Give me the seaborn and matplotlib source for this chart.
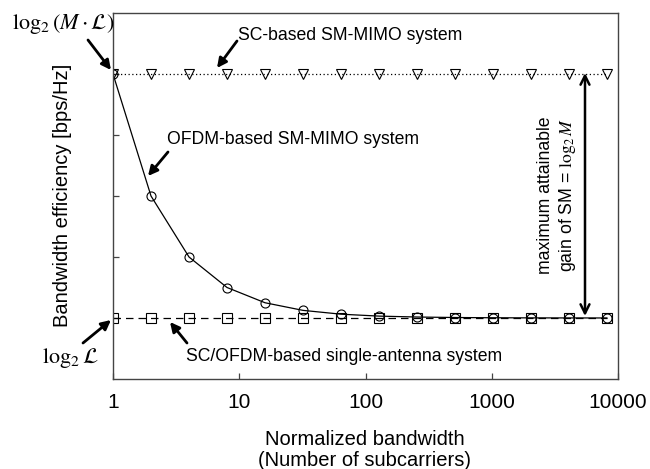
import numpy as np
import pandas as pd
import seaborn as sns
import matplotlib
matplotlib.use("Agg")
import matplotlib.pyplot as plt
from matplotlib.ticker import FixedLocator, FixedFormatter, NullLocator

# ---- data ----
subcarriers = [1, 2, 4, 8, 16, 32, 64, 128, 256, 512, 1024, 2048, 4096, 8192]
sc_sm_mimo = [5, 5, 5, 5, 5, 5, 5, 5, 5, 5, 5, 5, 5, 5]
ofdm_sm_mimo = [5, 3, 2, 1.5, 1.25, 1.125, 1.0625, 1.031, 1.016, 1.008, 1.004, 1.002, 1.001, 1.0005]
single_antenna = [1, 1, 1, 1, 1, 1, 1, 1, 1, 1, 1, 1, 1, 1]
xtick_vals = [1, 10, 100, 1000, 10000]
xtick_labels = ["1", "10", "100", "1000", "10000"]
ytick_vals = [1, 2, 3, 4, 5]

df = pd.DataFrame({"N": subcarriers, "sc": sc_sm_mimo, "ofdm": ofdm_sm_mimo, "single": single_antenna})

sns.set_theme(style="ticks")
plt.rcParams["font.family"] = ["Liberation Sans", "DejaVu Sans"]
plt.rcParams["mathtext.fontset"] = "stix"
plt.rcParams["text.color"] = "black"
plt.rcParams["xtick.labelcolor"] = "black"

W, H = 650, 469
fig = plt.figure(figsize=(6.5, 4.69), dpi=100)
ax = fig.add_axes([113 / W, 1 - 379 / H, (618 - 113) / W, (379 - 13) / H])

common = dict(color="black", linewidth=0.9, markerfacecolor="none",
              markeredgecolor="black", markeredgewidth=0.8, markersize=6.5)
sns.lineplot(data=df, x="N", y="single", ax=ax, marker="s", linestyle=(0, (6, 4)), **common)
sns.lineplot(data=df, x="N", y="sc", ax=ax, marker="v", linestyle=(0, (1, 2)), **common)
sns.lineplot(data=df, x="N", y="ofdm", ax=ax, marker="o", linestyle="-", **common)

ax.set_xscale("log")
ax.set_xlim(1, 10000)
ax.set_ylim(0, 6)
ax.xaxis.set_major_locator(FixedLocator(xtick_vals))
ax.xaxis.set_major_formatter(FixedFormatter(xtick_labels))
ax.xaxis.set_minor_locator(NullLocator())
ax.yaxis.set_major_locator(FixedLocator(ytick_vals))
ax.set_yticklabels([])
ax.tick_params(axis="both", direction="in", length=4, width=0.9, color="#444444")
ax.tick_params(axis="x", labelsize=15, pad=10, labelcolor="black")
for s in ax.spines.values():
    s.set_color("#444444")
    s.set_linewidth(1.0)
    s.set_visible(True)
ax.set_xlabel("")
ax.set_ylabel("")

def fx(px):
    return px / W

def fy(py):
    return 1 - py / H

fig.text(fx(63), fy(195), "Bandwidth efficiency [bps/Hz]", rotation=90,
         ha="center", va="center", fontsize=14.5)
fig.text(fx(365), fy(450), "Normalized bandwidth\n(Number of subcarriers)",
         ha="center", va="center", fontsize=14.5, linespacing=1.1)

fig.text(fx(63), fy(24), r"$\log_2(M\cdot\mathcal{L})$", ha="center", va="center", fontsize=16)
fig.text(fx(70), fy(358), r"$\log_2\mathcal{L}$", ha="center", va="center", fontsize=16)
fig.text(fx(350), fy(35), "SC-based SM-MIMO system", ha="center", va="center", fontsize=12.7)
fig.text(fx(167), fy(140), "OFDM-based SM-MIMO system", ha="left", va="center", fontsize=12.7)
fig.text(fx(186), fy(356), "SC/OFDM-based single-antenna system", ha="left", va="center", fontsize=12.7)
fig.text(fx(557), fy(195), "maximum attainable\ngain of SM = $\\log_2 M$", rotation=90,
         ha="center", va="center", fontsize=12.7, multialignment="center", linespacing=1.2)

def arrow(tail, head):
    ax.annotate("", xy=(head[0], H - head[1]), xycoords="figure pixels",
                xytext=(tail[0], H - tail[1]), textcoords="figure pixels",
                arrowprops=dict(arrowstyle="-|>", color="black", lw=2.0,
                                mutation_scale=14, shrinkA=0, shrinkB=0))

arrow((88, 40), (111, 70))
arrow((237, 41), (217, 68))
arrow((168, 152), (148, 176))
arrow((83, 343), (111, 320))
arrow((187, 343), (170, 322))

ax.annotate("", xy=(585, H - 73), xycoords="figure pixels",
            xytext=(585, H - 316), textcoords="figure pixels",
            arrowprops=dict(arrowstyle="<->", color="black", lw=1.8,
                            mutation_scale=16, shrinkA=0, shrinkB=0))

fig.savefig("out.png", dpi=100)
